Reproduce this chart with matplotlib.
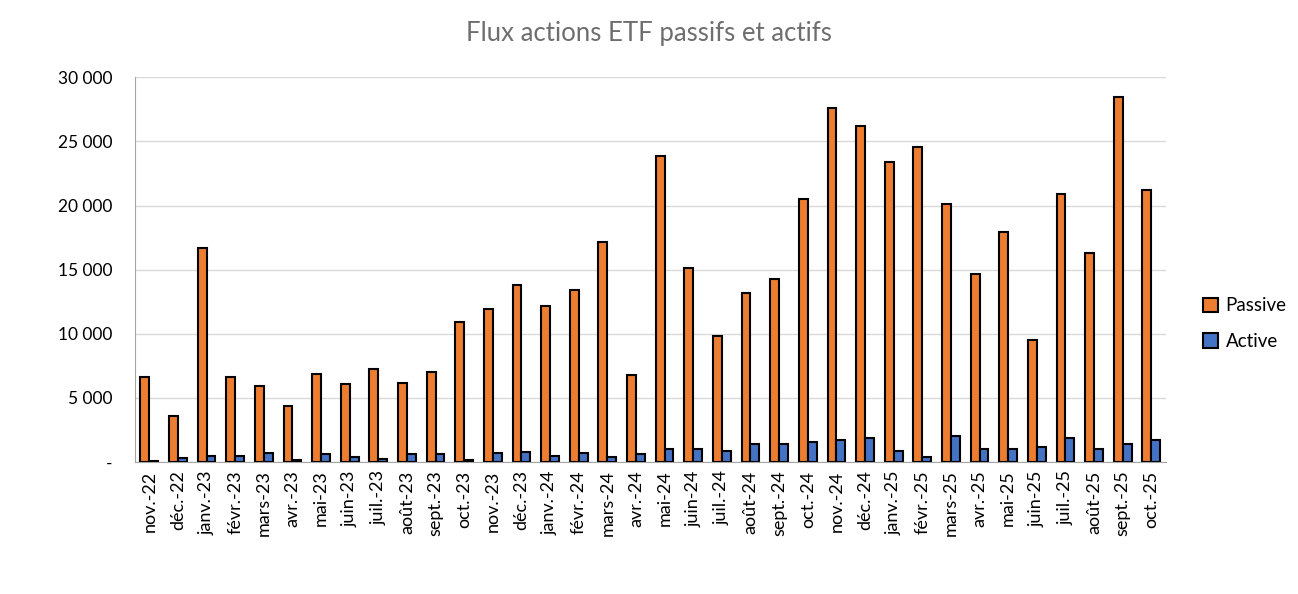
import numpy as np
import matplotlib
matplotlib.use('Agg')
import matplotlib.pyplot as plt
from matplotlib.ticker import FuncFormatter

plt.rcParams['font.family'] = ['Lato', 'DejaVu Sans']

mois = ['nov.-22', 'déc.-22', 'janv.-23', 'févr.-23', 'mars-23', 'avr.-23', 'mai-23', 'juin-23',
        'juil.-23', 'août-23', 'sept.-23', 'oct.-23', 'nov.-23', 'déc.-23', 'janv.-24', 'févr.-24',
        'mars-24', 'avr.-24', 'mai-24', 'juin-24', 'juil.-24', 'août-24', 'sept.-24', 'oct.-24',
        'nov.-24', 'déc.-24', 'janv.-25', 'févr.-25', 'mars-25', 'avr.-25', 'mai-25', 'juin-25',
        'juil.-25', 'août-25', 'sept.-25', 'oct.-25']

passive = [6600, 3600, 16700, 6600, 5900, 4400, 6900, 6100,
           7250, 6150, 7000, 10900, 11900, 13800, 12200, 13400,
           17150, 6800, 23850, 15100, 9800, 13200, 14250, 20500,
           27600, 26200, 23400, 24600, 20100, 14650, 17900, 9500,
           20900, 16300, 28450, 21200]

active = [80, 350, 470, 470, 720, 150, 600, 420,
          250, 600, 600, 200, 720, 800, 470, 720,
          420, 600, 1050, 1050, 900, 1450, 1450, 1600,
          1750, 1850, 900, 420, 2000, 1050, 1050, 1200,
          1850, 1000, 1400, 1700]

x = np.arange(len(mois))
w = 0.31

fig = plt.figure(figsize=(12.98, 5.94), dpi=100)
ax = fig.add_axes([0.104, 0.222, 0.794, 0.648])

ax.bar(x - w / 2, passive, width=w, color='#ED7D31', edgecolor='black', linewidth=1.5,
       label='Passive', zorder=3)
ax.bar(x + w / 2, active, width=w, color='#4472C4', edgecolor='black', linewidth=1.5,
       label='Active', zorder=3)

ax.set_ylim(0, 30000)
ax.set_xlim(-0.5, len(mois) - 0.5)
ax.set_yticks(range(0, 30001, 5000))
ax.yaxis.set_major_formatter(FuncFormatter(
    lambda v, p: '-' if v == 0 else f'{int(v):,}'.replace(',', '\u202f')))
ax.set_xticks(x)
ax.set_xticklabels(mois, rotation=90, fontsize=13)
ax.tick_params(axis='y', labelsize=12.5, length=0, pad=16)
ax.tick_params(axis='x', length=0, pad=6)
ax.grid(axis='y', color='#D9D9D9', linewidth=1, zorder=0)

for s in ['top', 'right']:
    ax.spines[s].set_visible(False)
ax.spines['left'].set_color('#A6A6A6')
ax.spines['bottom'].set_color('#A6A6A6')

fig.suptitle('Flux actions ETF passifs et actifs', fontsize=18.5, color='#6E6E6E', y=0.965)

ax.legend(loc='center left', bbox_to_anchor=(1.02, 0.36), frameon=False, fontsize=13.5,
          handlelength=0.8, handleheight=0.8, labelspacing=1.0, handletextpad=0.4)

fig.savefig('out.png', dpi=100)
